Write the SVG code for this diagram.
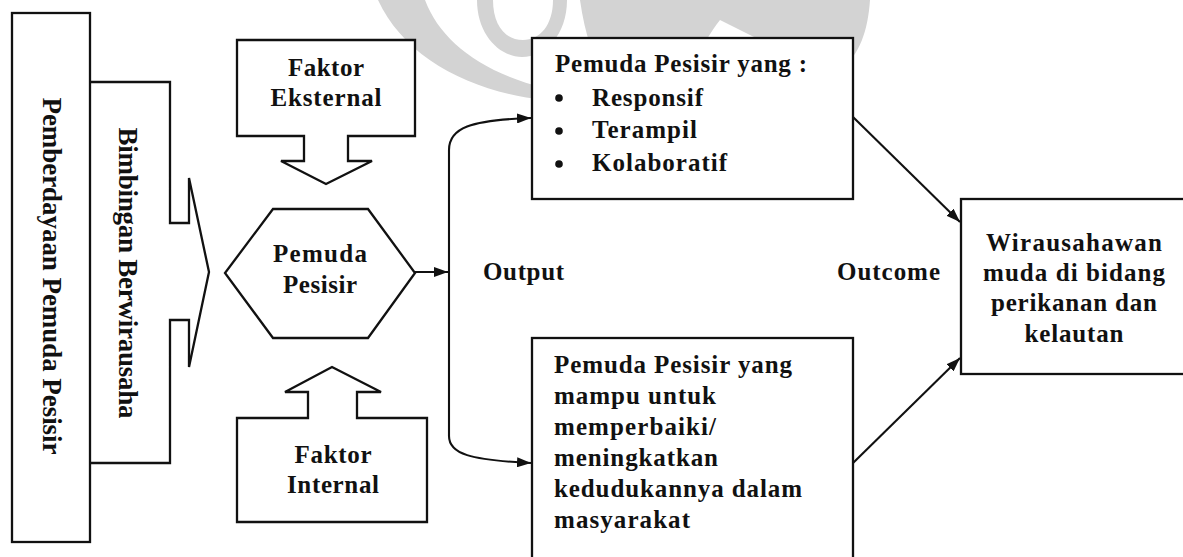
<svg xmlns="http://www.w3.org/2000/svg" width="1183" height="557" viewBox="0 0 1183 557">
  <defs>
    <style>
      .box { fill: #ffffff; stroke: #111111; stroke-width: 2.3; stroke-linejoin: miter; }
      .open { fill: none; stroke: #111111; stroke-width: 2.3; }
      .link { fill: none; stroke: #111111; stroke-width: 2.1; }
      .t { font-family: "Liberation Serif", "Times New Roman", serif; font-weight: bold; fill: #111111; }
      .f25 { font-size: 25px; }
      .f27 { font-size: 27px; }
      .mid { text-anchor: middle; }
      .wm { fill: #d3d3d3; }
    </style>
    <marker id="arrow" markerUnits="userSpaceOnUse" markerWidth="14" markerHeight="10" refX="14" refY="5" viewBox="0 0 14 10" orient="auto">
      <path d="M0,0 L14,5 L0,10 Z" fill="#111111"/>
    </marker>
  </defs>

  <!-- faint emblem in the background -->
  <g id="emblem">
    <path class="wm" d="M378,0 L425,0 C440,40 480,72 545,88 L545,100 C470,92 405,58 378,0 Z"/>
    <path class="wm" d="M477,0 C477,35 500,57 522,57 C545,57 567,35 567,0 L553,0 C553,25 540,40 523,40 C505,40 493,25 493,0 Z"/>
    <path class="wm" d="M580,0 L870,0 C868,30 860,55 840,70 C800,62 760,40 720,20 C700,45 690,80 650,108 C615,100 590,70 580,0 Z"/>
  </g>

  <!-- left column: programme frame and guidance arrow -->
  <g id="node-pemberdayaan">
    <rect class="box" x="12" y="13" width="78" height="529"/>
    <text class="t f27 mid" transform="translate(43,276) rotate(90)" textLength="357" lengthAdjust="spacing">Pemberdayaan Pemuda Pesisir</text>
  </g>

  <g id="node-bimbingan">
    <path class="open" d="M90,82 H170 V223 H189 V178 L209,272 L189,367 V320 H170 V463 H90"/>
    <text class="t f27 mid" transform="translate(119,273) rotate(90)" textLength="291" lengthAdjust="spacing">Bimbingan Berwirausaha</text>
  </g>

  <!-- external factor, pointing down -->
  <g id="node-eksternal">
    <path class="box" d="M237,40 H415 V136 H348 V161 H372 L326,184 L281,161 H304 V136 H237 Z"/>
    <text class="t f25 mid" x="326" y="76" textLength="76" lengthAdjust="spacing">Faktor</text>
    <text class="t f25 mid" x="326" y="106" textLength="111" lengthAdjust="spacing">Eksternal</text>
  </g>

  <!-- central hexagon -->
  <g id="node-pemuda">
    <polygon class="box" points="273,209 368,209 415,273 368,338 273,338 225,273"/>
    <text class="t f25 mid" x="320" y="262" textLength="94" lengthAdjust="spacing">Pemuda</text>
    <text class="t f25 mid" x="320" y="293" textLength="74" lengthAdjust="spacing">Pesisir</text>
  </g>

  <!-- internal factor, pointing up -->
  <g id="node-internal">
    <path class="box" d="M237,418 H308 V392 H285 L332,367 L381,392 H357 V418 H427 V522 H237 Z"/>
    <text class="t f25 mid" x="333" y="463" textLength="77" lengthAdjust="spacing">Faktor</text>
    <text class="t f25 mid" x="333" y="493" textLength="92" lengthAdjust="spacing">Internal</text>
  </g>

  <!-- output: qualities -->
  <g id="node-output-1">
    <rect class="box" x="532" y="38" width="321" height="161"/>
    <text class="t f25" x="555" y="72" textLength="252" lengthAdjust="spacing">Pemuda Pesisir yang :</text>
    <circle cx="559" cy="98" r="3.8" fill="#111111"/>
    <circle cx="559" cy="131" r="3.8" fill="#111111"/>
    <circle cx="559" cy="164" r="3.8" fill="#111111"/>
    <text class="t f25" x="592" y="106" textLength="111" lengthAdjust="spacing">Responsif</text>
    <text class="t f25" x="592" y="138" textLength="105" lengthAdjust="spacing">Terampil</text>
    <text class="t f25" x="592" y="171" textLength="135" lengthAdjust="spacing">Kolaboratif</text>
  </g>

  <!-- output: standing in society -->
  <g id="node-output-2">
    <rect class="box" x="532" y="338" width="321" height="240"/>
    <text class="t f25" x="554" y="373" textLength="238" lengthAdjust="spacing">Pemuda Pesisir yang</text>
    <text class="t f25" x="554" y="404" textLength="162" lengthAdjust="spacing">mampu untuk</text>
    <text class="t f25" x="554" y="435" textLength="162" lengthAdjust="spacing">memperbaiki/</text>
    <text class="t f25" x="554" y="466" textLength="164" lengthAdjust="spacing">meningkatkan</text>
    <text class="t f25" x="554" y="497" textLength="248" lengthAdjust="spacing">kedudukannya dalam</text>
    <text class="t f25" x="554" y="528" textLength="136" lengthAdjust="spacing">masyarakat</text>
  </g>

  <!-- outcome -->
  <g id="node-outcome">
    <rect class="box" x="961" y="199" width="240" height="175"/>
    <text class="t f25 mid" x="1074" y="251" textLength="176" lengthAdjust="spacing">Wirausahawan</text>
    <text class="t f25 mid" x="1074" y="281" textLength="182" lengthAdjust="spacing">muda di bidang</text>
    <text class="t f25 mid" x="1074" y="311" textLength="166" lengthAdjust="spacing">perikanan dan</text>
    <text class="t f25 mid" x="1074" y="342" textLength="99" lengthAdjust="spacing">kelautan</text>
  </g>

  <!-- stage labels -->
  <g id="labels">
    <text class="t f25" x="483" y="280" textLength="81" lengthAdjust="spacing">Output</text>
    <text class="t f25" x="837" y="280" textLength="103" lengthAdjust="spacing">Outcome</text>
  </g>

  <!-- connectors -->
  <g id="connectors">
    <line class="link" x1="415" y1="272" x2="448" y2="272" marker-end="url(#arrow)"/>
    <path class="link" d="M449,272 V150 C449,128 470,120 531,118" marker-end="url(#arrow)"/>
    <path class="link" d="M449,272 V436 C449,454 470,460 531,463" marker-end="url(#arrow)"/>
    <line class="link" x1="853" y1="117" x2="960" y2="222" marker-end="url(#arrow)"/>
    <line class="link" x1="853" y1="463" x2="960" y2="358" marker-end="url(#arrow)"/>
  </g>
</svg>
